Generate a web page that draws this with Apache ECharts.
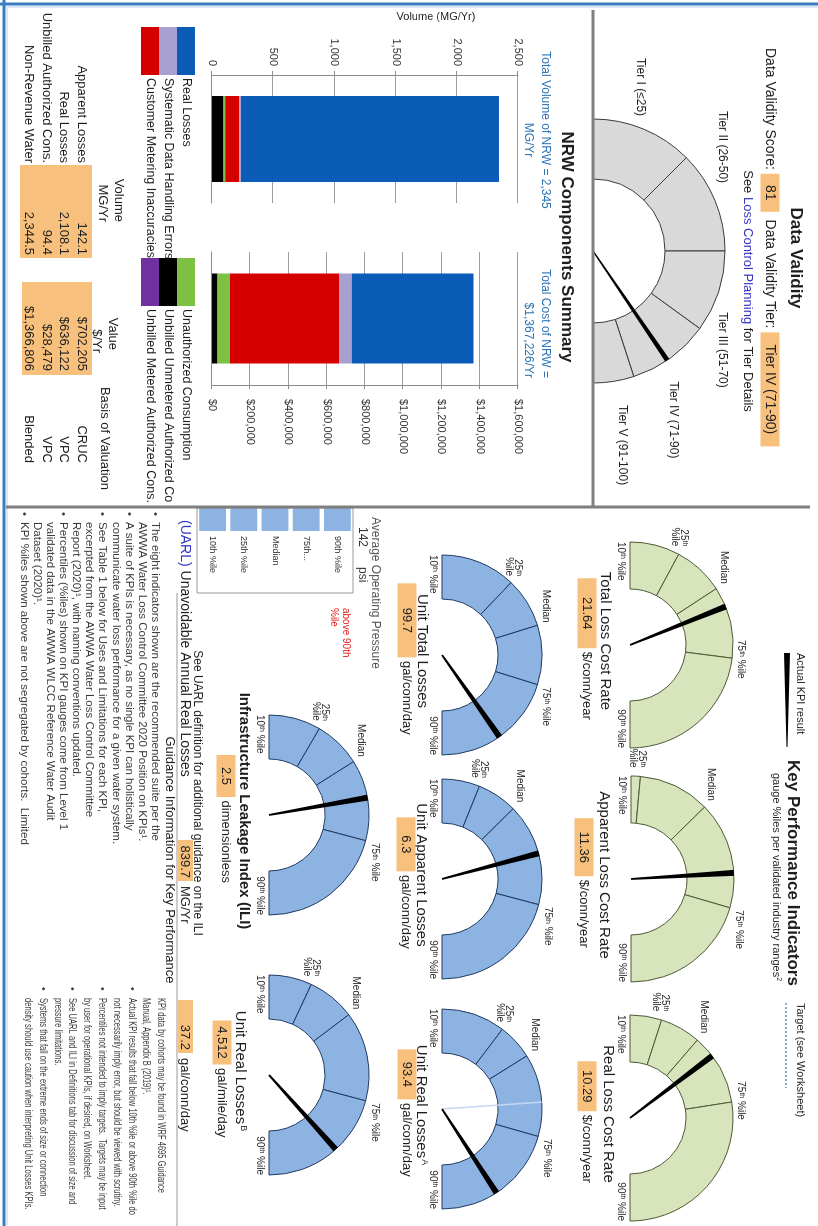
<!DOCTYPE html>
<html>
<head>
<meta charset="utf-8">
<title>Water Audit Dashboard</title>
<script src="https://cdn.jsdelivr.net/npm/echarts@6/dist/echarts.min.js"></script>
<style>
  html, body { margin: 0; padding: 0; background: #ffffff; overflow: hidden; }
  /* the dashboard is laid out in landscape and turned a quarter clockwise onto the page */
  #sheet { position: absolute; left: 818px; top: 0; width: 1226px; height: 818px;
           transform-origin: 0 0; transform: rotate(90deg); background: #ffffff; }
</style>
</head>
<body>
<div id="sheet"></div>
<script>
// ---------------- data ----------------
// NRW components (stacked from the bottom up)
const nrwComponents = ['Unbilled Metered Authorized Cons.', 'Unbilled Unmetered Authorized Cons.',
  'Unauthorized Consumption', 'Customer Metering Inaccuracies', 'Systematic Data Handling Errors', 'Real Losses'];
const nrwVolumes = [0, 94.4, 13.3, 115.3, 13.5, 2108.1];          // MG/Yr
const nrwCosts   = [0, 28479, 65700, 569800, 66705, 636122];       // $/Yr
const volumeAxis = { min: 0, max: 2500, step: 500 };
const costAxis   = { min: 0, max: 1600000, step: 200000 };

// NRW summary table
const tableRows    = ['Apparent Losses', 'Real Losses', 'Unbilled Authorized Cons.', 'Non-Revenue Water'];
const tableVolumes = ['142.1', '2,108.1', '94.4', '2,344.5'];
const tableValues  = ['$702,205', '$636,122', '$28,479', '$1,366,806'];
const tableBasis   = ['CRUC', 'VPC', 'VPC', 'Blended'];

// Data validity
const tierNames  = ['Tier I (≤25)', 'Tier II (26-50)', 'Tier III (51-70)', 'Tier IV (71-90)', 'Tier V (91-100)'];
const tierBounds = [0, 25, 50, 70, 90, 100];
const dataValidityScore = 81;

// Key performance indicators
const kpiNames  = ['Total Loss Cost Rate', 'Apparent Loss Cost Rate', 'Real Loss Cost Rate',
  'Unit Total Losses', 'Unit Apparent Losses', 'Unit Real Losses',
  'Infrastructure Leakage Index (ILI)', 'Unit Real Losses'];
const kpiMarks  = ['', '', '', '', '', 'A', '', 'B'];
const kpiUnits  = ['$/conn/year', '$/conn/year', '$/conn/year', 'gal/conn/day', 'gal/conn/day',
  'gal/conn/day', 'dimensionless', 'gal/mile/day'];
const kpiValues = [21.64, 11.36, 10.29, 99.7, 6.3, 93.4, 2.5, 4512];
const kpiValueText = ['21.64', '11.36', '10.29', '99.7', '6.3', '93.4', '2.5', '4,512'];
// industry percentiles: 10th, 25th, median, 75th, 90th
const kpiPercentiles = [
  [5.0, 11.9, 18.9, 28.8, 49.0],
  [1.5, 2.1, 6.7, 13.6, 22.0],
  [2.0, 4.8, 8.4, 14.7, 30.2],
  [20, 44, 60, 79, 119],
  [1.0, 2.55, 4.2, 8.4, 13.7],
  [15, 34.8, 45.9, 71.5, 111],
  [0.7, 1.38, 2.0, 3.06, 4.75],
  [500, 1227, 2038, 3551, 5731]
];
const kpiTargets = [null, null, null, null, null, 60.9, null, null];
const pctLabels = ['10', '25', 'Median', '75', '90'];

// Average operating pressure
const pressureValue = 142;
const pressureRows = ['10th %ile', '25th %ile', 'Median', '75th...', '90th %ile'];
const pressureBars = [100, 100, 100, 100, 100];

// UARL
const uarlVolume = '839.7';
const uarlPerConn = '37.2';

const guidanceLeft = [
  ['•', 'The eight indicators shown are the recommended suite per the'],
  ['', 'AWWA Water Loss Control Committee 2020 Position on KPIs¹.'],
  ['•', 'A suite of KPIs is necessary, as no single KPI can holistically'],
  ['', 'communicate water loss performance for a given water system.'],
  ['•', 'See Table 1 below for Uses and Limitations for each KPI,'],
  ['', 'excerpted from the AWWA Water Loss Control Committee'],
  ['', 'Report (2020)¹, with naming conventions updated.'],
  ['•', 'Percentiles (%iles) shown on KPI gauges come from Level 1'],
  ['', 'validated data in the AWWA WLCC Reference Water Audit'],
  ['', 'Dataset (2020)¹.'],
  ['•', 'KPI %iles shown above are not segregated by cohorts.  Limited']
];
const guidanceRight = [
  ['', 'KPI data by cohorts may be found in WRF 4695 Guidance'],
  ['', 'Manual, Appendix B (2019)¹.'],
  ['•', 'Actual KPI results that fall below 10th %ile or above 90th %ile do'],
  ['', 'not necessarily imply error, but should be viewed with scrutiny.'],
  ['•', 'Percentiles not intended to imply targets.  Targets may be input'],
  ['', 'by user for operational KPIs, if desired, on Worksheet.'],
  ['•', 'See UARL and ILI in Definitions tab for discussion of size and'],
  ['', 'pressure limitations.'],
  ['•', 'Systems that fall on the extreme ends of size or connection'],
  ['', 'density should use caution when interpreting Unit Losses KPIs.']
];

// ---------------- styling & layout ----------------
const FONT = '"Liberation Sans", Arial, sans-serif';
const INK = '#1e1e1e';
const nrwColors = ['#7030a0', '#000000', '#7cc142', '#d40000', '#a9a0d2', '#0b5cb6'];
const ORANGE = '#f8c07d';
const GREEN = '#d8e4bc', GREEN_EDGE = '#4c5a34';
const BLUE = '#8db3e2', BLUE_EDGE = '#1f3a63';
const GREY = '#d9d9d9', GREY_EDGE = '#3a3a3a';
const LINK = '#3434c4';
const kpiLayout = [
  { cx: 645, cy: 188, r0: 56, r1: 103, titleY: 213, boxY: 231, boxW: 62 },
  { cx: 879, cy: 187, r0: 56, r1: 103, titleY: 214, boxY: 234, boxW: 50 },
  { cx: 1118, cy: 188, r0: 56, r1: 103, titleY: 210, boxY: 231, boxW: 42 },
  { cx: 655, cy: 376, r0: 56, r1: 100, titleY: 396, boxY: 411, boxW: 66 },
  { cx: 879, cy: 376, r0: 56, r1: 100, titleY: 397, boxY: 412, boxW: 46 },
  { cx: 1109, cy: 376, r0: 56, r1: 100, titleY: 397, boxY: 411, boxW: 42 },
  { cx: 815, cy: 549, r0: 56, r1: 100, titleY: 574, boxY: 592, boxW: 34 },
  { cx: 1075, cy: 549, r0: 56, r1: 100, titleY: 578, boxY: 596, boxW: 36 }
];
const NEEDLE = 'path://M0,0 L10,0 L6.5,100 L3.5,100 Z';
const BAR = 'path://M0,0 L10,0 L10,100 L0,100 Z';

function txt(x, y, text, o) {
  o = o || {};
  const style = {
    text: text, fill: o.color || INK, fontSize: o.size || 12, fontFamily: FONT,
    fontWeight: o.weight || 'normal', align: o.align || 'left', verticalAlign: o.valign || 'middle'
  };
  if (o.rich) style.rich = o.rich;
  if (o.lineHeight) style.lineHeight = o.lineHeight;
  return { type: 'text', x: x, y: y, rotation: o.rotation || 0, scaleX: o.scaleX || 1,
    silent: true, z: 20, style: style };
}
function line(x1, y1, x2, y2, color, w, dash) {
  return { type: 'line', silent: true, z: 10, shape: { x1: x1, y1: y1, x2: x2, y2: y2 },
    style: { stroke: color, lineWidth: w, lineDash: dash || null } };
}
function rect(x, y, w, h, fill, stroke) {
  return { type: 'rect', silent: true, z: 5, shape: { x: x, y: y, width: w, height: h },
    style: { fill: fill, stroke: stroke || null, lineWidth: stroke ? 1 : 0 } };
}
const fmt = v => v.toLocaleString('en-US');

// ring of a gauge: one pie slice per band, bottom half left empty
function ringSeries(cx, cy, r0, r1, bounds, fill, edge) {
  const data = [];
  for (let k = 1; k < bounds.length; k++) {
    data.push({ value: bounds[k] - bounds[k - 1], itemStyle: { color: fill, borderColor: edge, borderWidth: 1 } });
  }
  data.push({ value: bounds[bounds.length - 1] - bounds[0], itemStyle: { color: 'rgba(0,0,0,0)', borderWidth: 0 } });
  return { type: 'pie', silent: true, center: [cx, cy], radius: [r0, r1], startAngle: 180, clockwise: true,
    label: { show: false }, labelLine: { show: false }, data: data, z: 2 };
}
// needle on a half-circle gauge
function needleSeries(cx, cy, r, min, max, value, color, width, icon) {
  return { type: 'gauge', silent: true, center: [cx, cy], radius: r, startAngle: 180, endAngle: 0,
    min: min, max: max, z: 4,
    axisLine: { show: false }, axisTick: { show: false }, splitLine: { show: false },
    axisLabel: { show: false }, progress: { show: false }, anchor: { show: false },
    title: { show: false }, detail: { show: false },
    pointer: { icon: icon, length: '100%', width: width, offsetCenter: [0, 0], keepAspect: false },
    itemStyle: { color: color }, data: [{ value: value }] };
}

const series = [];
const g = [];

// ---------- frame ----------
g.push(line(4, 0, 4, 818, '#3a7cc2', 3));
g.push(line(7, 0, 7, 812, '#b7cfea', 1));
g.push(line(0, 814, 1226, 814, '#3a7cc2', 3));
g.push(line(8, 811, 1226, 811, '#b7cfea', 1));
g.push(line(10, 225, 507, 225, '#7f7f7f', 3));
g.push(line(507, 8, 507, 812, '#7f7f7f', 3));

// ---------- data validity ----------
series.push(ringSeries(251, 225, 72, 132, tierBounds, GREY, GREY_EDGE));
series.push(needleSeries(251, 225, 132, tierBounds[0], tierBounds[tierBounds.length - 1],
  dataValidityScore, '#000000', 5, NEEDLE));
g.push(txt(258, 22, 'Data Validity', { size: 17, weight: 'bold', align: 'center' }));
g.push(txt(48, 48, 'Data Validity Score: {s|' + dataValidityScore + '}  Data Validity Tier: {t|' + tierNames[3] + '}', {
  size: 14, rich: {
    s: { backgroundColor: ORANGE, width: 28, align: 'center', padding: [3, 5, 2, 5], fontSize: 14, fontFamily: FONT, fill: INK },
    t: { backgroundColor: ORANGE, padding: [3, 4, 2, 4], width: 106, align: 'left', fontSize: 14, fontFamily: FONT, fill: INK }
  }
}));
g.push(txt(291, 70, 'See {l|Loss Control Planning} for Tier Details', {
  size: 13, align: 'center', rich: { l: { fill: LINK, fontSize: 13, fontFamily: FONT } }
}));
const tierPos = [[87, 178], [147, 96], [350, 96], [420, 145], [445, 196]];
tierNames.forEach((t, k) => g.push(txt(tierPos[k][0], tierPos[k][1], t, { size: 12, align: 'center' })));

// ---------- NRW components ----------
g.push(txt(247, 251, 'NRW Components Summary', { size: 17, weight: 'bold', align: 'center' }));
g.push(txt(130, 273, 'Total Volume of NRW = 2,345', { size: 12, color: '#2e74b5', align: 'center' }));
g.push(txt(140, 290, 'MG/Yr', { size: 12, color: '#2e74b5', align: 'center' }));
g.push(txt(378, 273, 'Total Cost of NRW =', { size: 12, color: '#2e74b5', align: 'right' }));
g.push(txt(378, 290, '$1,367,226/Yr', { size: 12, color: '#2e74b5', align: 'right' }));
g.push(txt(17, 382, 'Volume (MG/Yr)', { size: 11, align: 'center', rotation: Math.PI / 2 }));

nrwComponents.forEach((name, i) => {
  series.push({ type: 'bar', name: name, xAxisIndex: 0, yAxisIndex: 0, stack: 'volume', barWidth: 86,
    data: [nrwVolumes[i]], itemStyle: { color: nrwColors[i] }, silent: true });
});
nrwComponents.forEach((name, i) => {
  series.push({ type: 'bar', name: name, xAxisIndex: 1, yAxisIndex: 1, stack: 'cost', barWidth: 90,
    data: [nrwCosts[i]], itemStyle: { color: nrwColors[i] }, silent: true });
});

// summary table
g.push(txt(222, 699, 'Volume', { size: 13, align: 'right' }));
g.push(txt(222, 715, 'MG/Yr', { size: 13, align: 'right' }));
g.push(txt(350, 705, 'Value', { size: 13, align: 'right' }));
g.push(txt(353, 721, '$/Yr', { size: 13, align: 'right' }));
g.push(txt(490, 713, 'Basis of Valuation', { size: 13, align: 'right' }));
g.push(rect(165, 726, 93, 72, ORANGE));
g.push(rect(282, 726, 93, 70, ORANGE));
const rowY = [736, 754, 771, 789];
tableRows.forEach((r, k) => {
  g.push(txt(163, rowY[k], r, { size: 13, align: 'right' }));
  g.push(txt(255, rowY[k], tableVolumes[k], { size: 13, align: 'right' }));
  g.push(txt(371, rowY[k], tableValues[k], { size: 13, align: 'right' }));
  g.push(txt(463, rowY[k], tableBasis[k], { size: 13, align: 'right' }));
});

// ---------- key performance indicators ----------
g.push(txt(873, 25, 'Key Performance Indicators', { size: 17, weight: 'bold', align: 'center' }));
g.push(txt(877, 42, 'gauge %iles per validated industry ranges{s|2}', {
  size: 11, align: 'center', rich: { s: { fontSize: 7, verticalAlign: 'top', fontFamily: FONT, fill: INK, padding: [0, 0, 5, 0] } }
}));
g.push(txt(653, 18, 'Actual KPI result', { size: 11 }));
g.push({ type: 'polygon', silent: true, z: 10, shape: { points: [[653, 28], [747, 30.6], [747, 31.4], [653, 34]] },
  style: { fill: '#000' } });
g.push(txt(1003, 18, 'Target (see Worksheet)', { size: 11 }));
g.push(line(1003, 32, 1088, 32, '#8ea9dc', 2, [2, 2]));

function pctText(label) {
  if (label === 'Median') return 'Median';
  return label + '{s|th} %ile';
}
const supRich = {
  s: { fontSize: 7, verticalAlign: 'top', fontFamily: FONT, fill: INK, padding: [0, 0, 4, 0] }
};

kpiNames.forEach((name, i) => {
  const L = kpiLayout[i];
  const p = kpiPercentiles[i];
  const fill = i < 3 ? GREEN : BLUE;
  const edge = i < 3 ? GREEN_EDGE : BLUE_EDGE;
  series.push(ringSeries(L.cx, L.cy, L.r0, L.r1, p, fill, edge));
  if (kpiTargets[i] !== null) {
    series.push(needleSeries(L.cx, L.cy, L.r1, p[0], p[4], kpiTargets[i], '#c6d6f0', 1.5, BAR));
  }
  series.push(needleSeries(L.cx, L.cy, L.r1, p[0], p[4], kpiValues[i], '#000000', 6, NEEDLE));

  // percentile labels around the ring
  g.push(txt(L.cx - L.r1, L.cy + 9, pctText(pctLabels[0]), { size: 10, align: 'left', rich: supRich }));
  g.push(txt(L.cx + L.r1, L.cy + 9, pctText(pctLabels[4]), { size: 10, align: 'right', rich: supRich }));
  for (let k = 1; k <= 3; k++) {
    const a = Math.PI * (p[k] - p[0]) / (p[4] - p[0]);
    const r = L.r1 + 9;
    const x = L.cx - r * Math.cos(a), y = L.cy - r * Math.sin(a);
    const deg = a * 180 / Math.PI;
    const align = deg < 80 ? 'right' : (deg > 100 ? 'left' : 'center');
    let label, dy = 0;
    if (pctLabels[k] === 'Median') label = 'Median';
    else if (k === 1) { label = pctLabels[k] + '{s|th}\n%ile'; dy = 4; }
    else label = pctText(pctLabels[k]);
    g.push(txt(x, y + dy, label, { size: 10, align: align, rich: supRich, lineHeight: 9 }));
  }
  // name and value
  const bold = i === 6;
  g.push(txt(L.cx - 4, L.titleY, name + (kpiMarks[i] ? '{s|' + kpiMarks[i] + '}' : ''), {
    size: 15, align: 'center', weight: bold ? 'bold' : 'normal',
    rich: { s: { fontSize: 9, verticalAlign: 'top', fontFamily: FONT, fill: INK, padding: [0, 0, 7, 1] } }
  }));
  g.push(txt(L.cx + 4, L.boxY, '{b|' + kpiValueText[i] + '} ' + kpiUnits[i], {
    size: 13, align: 'center', rich: {
      b: { backgroundColor: ORANGE, width: L.boxW, align: 'right', padding: [3, 4, 3, 4], fontSize: 13, fontFamily: FONT, fill: INK }
    }
  }));
});

// ---------- average operating pressure ----------
g.push(txt(517, 443, 'Average Operating Pressure', { size: 12, color: '#555555' }));
g.push(txt(527, 456, pressureValue + '      psi', { size: 12, color: '#333333' }));
g.push(txt(608, 478, 'above 90th\n%ile', { size: 10, color: '#e0201b', lineHeight: 12 }));
g.push(rect(508, 465, 85, 156, null, '#9a9a9a'));

// ---------- UARL ----------
g.push(txt(793, 621, 'See UARL definition for additional guidance on the ILI', { size: 12, align: 'center' }));
g.push(txt(520, 633, '{u|(UARL)} Unavoidable Annual Real Losses', { size: 14, rich: { u: { fill: LINK, fontSize: 14, fontFamily: FONT } } }));
g.push(rect(840, 625, 41, 15, ORANGE));
g.push(txt(878, 633, uarlVolume, { size: 13, align: 'right' }));
g.push(txt(886, 633, 'MG/Yr', { size: 13 }));
g.push(rect(1000, 625, 53, 15, ORANGE));
g.push(txt(1050, 633, uarlPerConn, { size: 13, align: 'right' }));
g.push(txt(1058, 633, 'gal/conn/day', { size: 13 }));
g.push(line(593, 641, 1226, 641, '#9a9a9a', 1));
g.push(txt(860, 648, 'Guidance Information for Key Performance', { size: 13, align: 'center' }));

// guidance notes: left column, then the narrower right column squeezed to its box width
guidanceLeft.forEach((ln, k) => {
  const y = 663 + k * 13.1;
  if (ln[0]) g.push(txt(512, y, ln[0], { size: 11.5, color: '#3a3a3a' }));
  g.push(txt(522, y, ln[1], { size: 11.5, color: '#3a3a3a' }));
});
const measure = document.createElement('canvas').getContext('2d');
measure.font = '10.5px ' + FONT;
const rightWidest = Math.max.apply(null, guidanceRight.map(ln => measure.measureText(ln[1]).width));
const rightSqueeze = 217 / rightWidest;
guidanceRight.forEach((ln, k) => {
  const y = 657 + k * 14.8;
  if (ln[0]) g.push(txt(987, y, ln[0], { size: 10.5, color: '#3a3a3a' }));
  g.push(txt(998, y, ln[1], { size: 10.5, color: '#3a3a3a', scaleX: rightSqueeze }));
});

const option = {
  animation: false,
  textStyle: { fontFamily: FONT },
  grid: [
    { left: 75, top: 300, width: 128, height: 306 },
    { left: 252, top: 300, width: 133, height: 306 },
    { left: 508, top: 465, width: 23, height: 156 }
  ],
  xAxis: [
    { gridIndex: 0, type: 'category', data: ['Volume'], axisLine: { lineStyle: { color: '#8c8c8c' } },
      axisTick: { show: false }, axisLabel: { show: false } },
    { gridIndex: 1, type: 'category', data: ['Cost'], axisLine: { lineStyle: { color: '#8c8c8c' } },
      axisTick: { show: false }, axisLabel: { show: false } },
    { gridIndex: 2, type: 'value', min: 0, max: 100, show: false }
  ],
  yAxis: [
    { gridIndex: 0, type: 'value', min: volumeAxis.min, max: volumeAxis.max, interval: volumeAxis.step,
      axisLine: { show: true, lineStyle: { color: '#8c8c8c' } },
      axisTick: { show: true, length: 4, lineStyle: { color: '#8c8c8c' } },
      splitLine: { lineStyle: { color: '#9c9c9c' } },
      axisLabel: { formatter: v => fmt(v), fontSize: 11, color: '#333', margin: 9, fontFamily: FONT } },
    { gridIndex: 1, type: 'value', position: 'right', min: costAxis.min, max: costAxis.max, interval: costAxis.step,
      axisLine: { show: true, lineStyle: { color: '#8c8c8c' } },
      axisTick: { show: true, length: 4, lineStyle: { color: '#8c8c8c' } },
      splitLine: { lineStyle: { color: '#9c9c9c' } },
      axisLabel: { formatter: v => '$' + fmt(v), fontSize: 11, color: '#333', margin: 14, fontFamily: FONT } },
    { gridIndex: 2, type: 'category', data: pressureRows, position: 'right',
      axisLine: { show: false }, axisTick: { show: false },
      axisLabel: { fontSize: 9, color: '#333', margin: 5, fontFamily: FONT } }
  ],
  legend: [
    { left: 27, top: 623, orient: 'vertical', itemWidth: 48, itemHeight: 18, itemGap: 0, padding: 0,
      icon: 'rect', selectedMode: false, textStyle: { fontSize: 12.5, color: INK, fontFamily: FONT, padding: [0, 0, 0, -2] },
      data: ['Real Losses', 'Systematic Data Handling Errors', 'Customer Metering Inaccuracies'] },
    { left: 258, top: 623, orient: 'vertical', itemWidth: 48, itemHeight: 18, itemGap: 0, padding: 0,
      icon: 'rect', selectedMode: false,
      textStyle: { fontSize: 12.5, color: INK, fontFamily: FONT, padding: [0, 0, 0, -2], width: 196, overflow: 'truncate', ellipsis: '' },
      data: ['Unauthorized Consumption', 'Unbilled Unmetered Authorized Cons.', 'Unbilled Metered Authorized Cons.'] }
  ],
  series: series.concat([
    { type: 'bar', xAxisIndex: 2, yAxisIndex: 2, data: pressureBars, barCategoryGap: '14%',
      itemStyle: { color: '#8db3e2' }, silent: true }
  ]),
  graphic: { elements: g }
};

const chart = echarts.init(document.getElementById('sheet'), null, { renderer: 'canvas', width: 1226, height: 818 });
chart.setOption(option);
</script>
</body>
</html>
